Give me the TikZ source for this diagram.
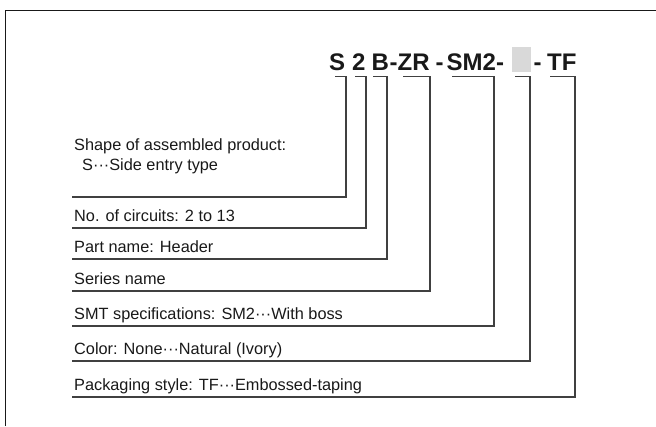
\documentclass[tikz,border=0pt]{standalone}
\usepackage{fontspec}
\setmainfont{Liberation Sans}
\begin{document}
\begin{tikzpicture}[x=1pt,y=-1pt]
\useasboundingbox (0,0) rectangle (656,426);
\tikzset{
  lbl/.style={anchor=base west, inner sep=0pt, align=left, text=black!90, font=\fontsize{16.3}{20}\selectfont},
  code/.style={anchor=base west, inner sep=0pt, text=black!90, font=\fontsize{24}{28}\selectfont\bfseries},
  leader/.style={draw=black!75, line width=1.3pt},
  frame/.style={draw=black!90, line width=1.6pt},
  blank/.style={fill=black!15, inner sep=0pt, minimum width=19pt, minimum height=25pt, anchor=north west}
}
% outer frame
\coordinate (fbl) at (5.5,426);
\coordinate (ftl) at (5.5,10.5);
\coordinate (ftr) at (656,10.5);
\draw[frame] (fbl) -- (ftl) -- (ftr);

% part number
\node[code] (cS) at (329,70) {S};
\node[code] (c2) at (352,70) {2};
\node[code] (cB) at (371.5,70) {B};
\node[code] (cZR) at (389.5,70) {-ZR};
\node[code] (cd1) at (435.5,70) {-};
\node[code] (cSM) at (446.5,70) {SM2-};
\node[blank] (cbox) at (512,47) {};
\node[code] (cd2) at (533.5,70) {-};
\node[code] (cTF) at (547,70) {TF};

% labels
\node[lbl] (l1) at (74,170) {Shape of assembled product:\\\hspace{8pt}S\textperiodcentered\textperiodcentered\textperiodcentered Side entry type};
\node[lbl] (l2) at (74,221) {No. of circuits: 2 to 13};
\node[lbl] (l3) at (74,252) {Part name: Header};
\node[lbl] (l4) at (74,284) {Series name};
\node[lbl] (l5) at (74,319) {SMT specifications: SM2\textperiodcentered\textperiodcentered\textperiodcentered With boss};
\node[lbl] (l6) at (74,354) {Color: None\textperiodcentered\textperiodcentered\textperiodcentered Natural (Ivory)};
\node[lbl] (l7) at (74,390) {Packaging style: TF\textperiodcentered\textperiodcentered\textperiodcentered Embossed-taping};

% leader coordinates
\coordinate (a1) at (72,197);   \coordinate (k1) at (346,76.5); \coordinate (e1) at (335,76.5);
\coordinate (a2) at (72,228);   \coordinate (k2) at (366,76.5); \coordinate (e2) at (355,76.5);
\coordinate (a3) at (72,259);   \coordinate (k3) at (387,76.5); \coordinate (e3) at (373,76.5);
\coordinate (a4) at (72,291);   \coordinate (k4) at (430,76.5); \coordinate (e4) at (403,76.5);
\coordinate (a5) at (72,326);   \coordinate (k5) at (494,76.5); \coordinate (e5) at (452,76.5);
\coordinate (a6) at (72,361);   \coordinate (k6) at (530,76.5); \coordinate (e6) at (515,76.5);
\coordinate (a7) at (72,397);   \coordinate (k7) at (575,76.5); \coordinate (e7) at (550,76.5);

\foreach \i in {1,...,7}{
  \draw[leader] (a\i) -| (k\i) -- (e\i);
}
\end{tikzpicture}
\end{document}
